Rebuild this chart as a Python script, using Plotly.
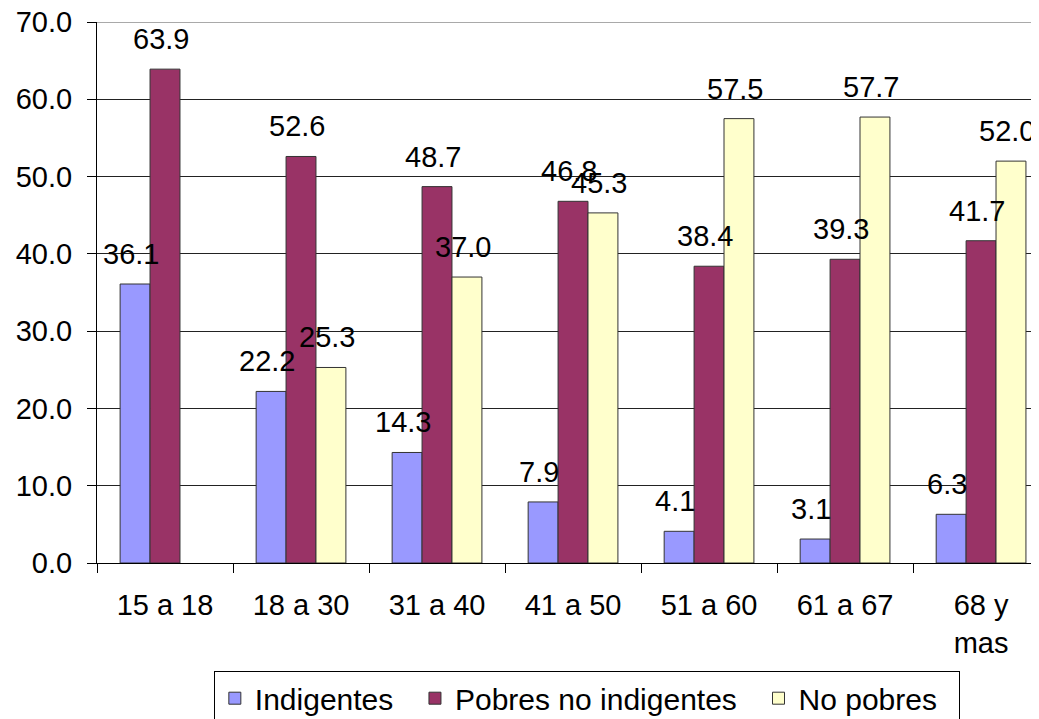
import plotly.graph_objects as go

categories = ["15 a 18", "18 a 30", "31 a 40", "41 a 50", "51 a 60", "61 a 67", "68 y<br>mas"]
indigentes = [36.1, 22.2, 14.3, 7.9, 4.1, 3.1, 6.3]
pobres_no_indigentes = [63.9, 52.6, 48.7, 46.8, 38.4, 39.3, 41.7]
no_pobres = [None, 25.3, 37.0, 45.3, 57.5, 57.7, 52.0]
y_max = 70

series = [
    ("Indigentes", indigentes, "#9999FF"),
    ("Pobres no indigentes", pobres_no_indigentes, "#993366"),
    ("No pobres", no_pobres, "#FFFFCC"),
]

FONT = "Liberation Sans, Arial, sans-serif"
FS = 29
fig = go.Figure()
offsets = [-0.22, 0.0, 0.22]
annotations = []
for k, (name, vals, color) in enumerate(series):
    fig.add_trace(go.Bar(
        name=name + "\u00a0\u00a0", x=categories, y=vals,
        marker=dict(color=color, line=dict(color="#333333", width=1)),
    ))
    for i, v in enumerate(vals):
        if v is None:
            continue
        annotations.append(dict(
            x=i + offsets[k] - 0.03, y=v, xref="x", yref="y", text=f"{v:.1f}",
            showarrow=False, yanchor="middle", yshift=30,
            font=dict(family=FONT, size=FS, color="black"),
        ))

# the page body adds an 8px offset; the figure is sized to fill the rest
fig.update_layout(
    width=1031, height=711,
    margin=dict(l=89, r=0, t=14, b=156, autoexpand=False),
    paper_bgcolor="white", plot_bgcolor="white",
    barmode="group", bargap=0.34, bargroupgap=0,
    font=dict(family=FONT, size=FS, color="black"),
    annotations=annotations,
    shapes=[dict(type="line", xref="paper", yref="y", x0=0, x1=1, y0=y_max, y1=y_max,
                 line=dict(color="#555555", width=1), layer="below")],
    showlegend=True,
    legend=dict(
        orientation="h", x=0.52, xanchor="center", y=-0.2, yanchor="top",
        bordercolor="black", borderwidth=1, bgcolor="white",
        font=dict(family=FONT, size=30, color="black"),
        traceorder="normal",
    ),
)
fig.update_xaxes(
    type="category", range=[-0.5, 6.426], automargin=False,
    showline=True, linecolor="black", linewidth=1,
    ticks="outside", tickson="boundaries", ticklen=9, tickcolor="black",
    tickfont=dict(family=FONT, size=FS, color="black"),
    ticklabelstandoff=16,
    showgrid=False,
)
fig.update_yaxes(
    range=[0, y_max + 0.0001], dtick=10, tick0=0, tickformat=".1f", automargin=False,
    showline=True, linecolor="black", linewidth=1,
    ticks="outside", ticklen=9, tickcolor="black",
    ticklabelstandoff=9, ticklabeloverflow="allow",
    showgrid=True, gridcolor="#222222", gridwidth=1,
    tickfont=dict(family=FONT, size=FS, color="black"),
    zeroline=False,
)
fig.write_html("out.html")
